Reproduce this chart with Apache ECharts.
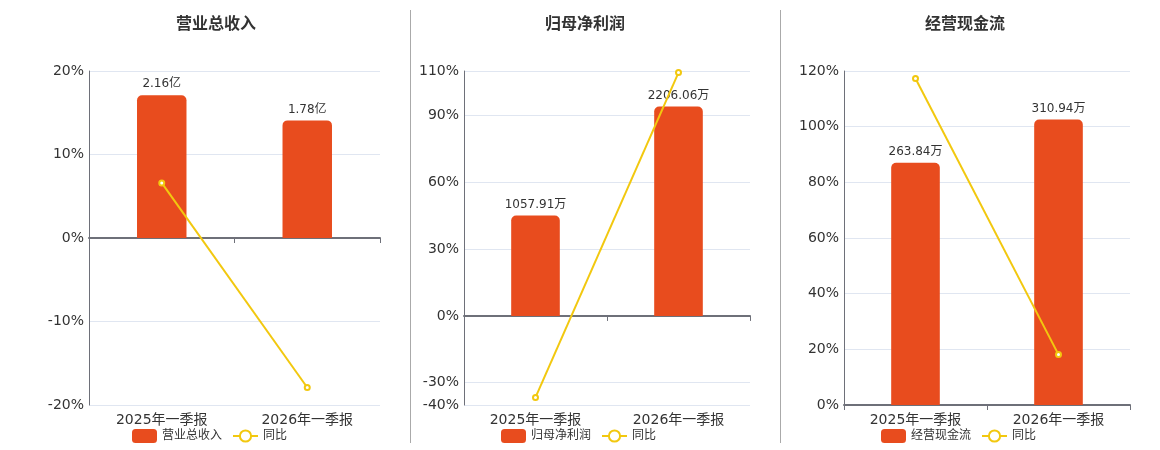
<!DOCTYPE html>
<html>
<head>
<meta charset="utf-8">
<script src="https://cdn.jsdelivr.net/npm/echarts@6/dist/echarts.min.js"></script>
<style>
  html, body { margin: 0; padding: 0; background: #fff; }
  #chart { width: 1160px; height: 450px; }
</style>
</head>
<body>
<div id="chart"></div>
<script>
// shared categories
const periods = ['2025年一季报', '2026年一季报'];

// panel titles / bar series names
const titles = ['营业总收入', '归母净利润', '经营现金流'];
const units = ['亿', '万', '万'];

// bar values
const revenue = [2.16, 1.78];
const netProfit = [1057.91, 2206.06];
const cashFlow = [263.84, 310.94];

// yoy growth (%)
const revenueYoy = [6.6, -17.9];
const netProfitYoy = [-36.6, 109.3];
const cashFlowYoy = [117.3, 18.1];

// percentage axis ticks
const pctTicks1 = [-20, -10, 0, 10, 20];
const pctTicks2 = [-40, -30, 0, 30, 60, 90, 110];
const pctTicks3 = [0, 20, 40, 60, 80, 100, 120];

const barColor = '#e84c1e';
const lineColor = '#f2c80f';
const fontFamily = 'DejaVu Sans, Noto Sans CJK SC, sans-serif';

const panels = [
    { bars: revenue, yoy: revenueYoy, ticks: pctTicks1, left: 89, right: 780, center: 211 },
    { bars: netProfit, yoy: netProfitYoy, ticks: pctTicks2, left: 464, right: 410, center: 580 },
    { bars: cashFlow, yoy: cashFlowYoy, ticks: pctTicks3, left: 844, right: 30, center: 960 }
];

let grid = [], xAxis = [], yAxis = [], series = [], title = [], legend = [];

panels.forEach(function(p, i) {
    const pctMin = p.ticks[0];
    const pctMax = p.ticks[p.ticks.length - 1];
    // hidden bar axis, zero aligned with the percentage axis
    const barMax = Math.max.apply(null, p.bars) * 1.17;
    const barMin = barMax * pctMin / pctMax;

    grid.push({ left: p.left, right: p.right, top: 71, bottom: 45 });

    title.push({
        text: titles[i],
        left: p.center,
        top: 12,
        textAlign: 'center',
        textStyle: { fontSize: 16, fontWeight: 'bold', color: '#333', fontFamily: fontFamily }
    });

    // legend centred roughly under the panel
    legend.push({
        data: [titles[i], '同比'],
        left: p.center - 84,
        top: 424,
        itemWidth: 25,
        itemHeight: 14,
        itemGap: 10,
        textStyle: { fontSize: 12, color: '#333', fontFamily: fontFamily }
    });

    // label axis at bottom
    xAxis.push({
        type: 'category',
        gridIndex: i,
        data: periods,
        position: 'bottom',
        axisLine: { show: false, onZero: false },
        axisTick: { show: false },
        axisLabel: { fontSize: 14, color: '#333', margin: 8, fontFamily: fontFamily }
    });
    // zero line axis
    xAxis.push({
        type: 'category',
        gridIndex: i,
        data: periods,
        position: 'bottom',
        axisLine: { show: true, onZero: true, onZeroAxisIndex: i * 2, lineStyle: { color: '#6e7079', width: 2 } },
        axisTick: { show: true, length: 5, lineStyle: { color: '#6e7079' } },
        axisLabel: { show: false }
    });

    yAxis.push({
        type: 'value',
        gridIndex: i,
        min: pctMin,
        max: pctMax,
        axisLine: { show: true, lineStyle: { color: '#6e7079' } },
        axisTick: { show: false, customValues: p.ticks },
        axisLabel: {
            customValues: p.ticks,
            fontSize: 14,
            color: '#333',
            margin: 5,
            fontFamily: fontFamily,
            formatter: function(v) { return v + '%'; }
        },
        splitLine: { show: true, lineStyle: { color: '#e0e6f1' } }
    });
    yAxis.push({
        type: 'value',
        gridIndex: i,
        min: barMin,
        max: barMax,
        show: false,
        splitLine: { show: false }
    });

    series.push({
        name: titles[i],
        type: 'bar',
        xAxisIndex: i * 2,
        yAxisIndex: i * 2 + 1,
        data: p.bars,
        barWidth: '34%',
        itemStyle: { color: barColor, borderRadius: [5, 5, 0, 0] },
        label: {
            show: true,
            position: 'top',
            distance: 5,
            fontSize: 12,
            color: '#333',
            fontFamily: fontFamily,
            formatter: (function(u) { return function(d) { return d.value + u; }; })(units[i])
        }
    });
    series.push({
        name: '同比',
        type: 'line',
        xAxisIndex: i * 2,
        yAxisIndex: i * 2,
        data: p.yoy,
        z: 5,
        symbol: 'emptyCircle',
        symbolSize: 5,
        itemStyle: { color: lineColor },
        lineStyle: { color: lineColor, width: 2 }
    });
});

let chart = echarts.init(document.getElementById('chart'));
chart.setOption({
    animation: false,
    title: title,
    legend: legend,
    grid: grid,
    xAxis: xAxis,
    yAxis: yAxis,
    series: series,
    graphic: [
        { type: 'line', shape: { x1: 410.5, y1: 10, x2: 410.5, y2: 443 }, style: { stroke: '#aaa', lineWidth: 1 } },
        { type: 'line', shape: { x1: 780.5, y1: 10, x2: 780.5, y2: 443 }, style: { stroke: '#aaa', lineWidth: 1 } }
    ]
});
</script>
</body>
</html>
